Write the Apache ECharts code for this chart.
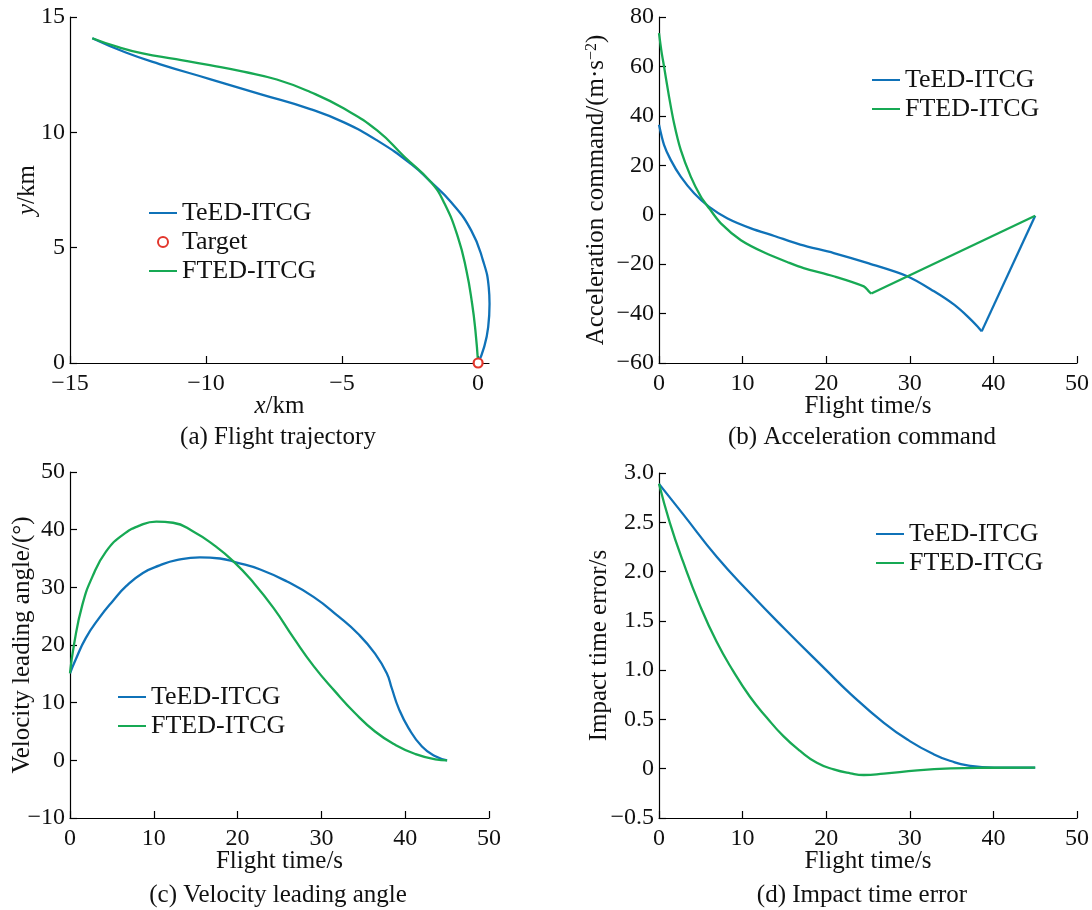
<!DOCTYPE html>
<html>
<head>
<meta charset="utf-8">
<script src="https://cdn.jsdelivr.net/npm/echarts@6/dist/echarts.min.js"></script>
<style>
  html, body { margin: 0; padding: 0; background: #fff; }
  #chart { width: 1092px; height: 910px; }
</style>
</head>
<body>
<div id="chart"></div>
<script>
// (a) flight trajectory, km
const trajTeX = [-14.18, -12.95, -11.71, -9.86, -8.01, -6.17, -4.93, -3.70, -2.47, -1.73, -0.99, -0.25, 0.18, 0.39, 0.42, 0.37, 0.22, 0];
const trajTeY = [14.08, 13.46, 12.96, 12.31, 11.66, 11.01, 10.43, 9.64, 8.63, 7.84, 6.97, 5.74, 4.44, 3.29, 2.57, 1.56, 0.69, 0];
const trajFtX = [-14.18, -13.19, -12.33, -11.10, -9.86, -8.63, -7.40, -6.17, -4.93, -3.70, -2.71, -1.73, -1.23, -0.74, -0.43, -0.22, -0.10, 0];
const trajFtY = [14.08, 13.68, 13.42, 13.17, 12.91, 12.63, 12.29, 11.75, 11.03, 10.07, 8.94, 7.84, 6.90, 5.45, 4.01, 2.57, 1.41, 0];
const target = [[0, 0]];

// (b) acceleration command, m/s^2 (last point of each is after the switch)
const accTeT = [0, 0.6, 1.4, 2.6, 4.2, 6.0, 8.2, 11.0, 13.8, 16.9, 20.9, 24.9, 29.7, 32.9, 35.3, 36.9, 38.1, 38.6, 45];
const accTe = [36.4, 28.3, 22.2, 15.4, 8.7, 3.2, -1.5, -5.5, -8.6, -12.1, -15.5, -19.5, -24.9, -31, -36.4, -41.1, -45.2, -47.2, -0.4];
const accFtT = [0, 0.3, 0.6, 1.2, 1.8, 2.6, 3.8, 5.0, 6.0, 7.4, 9.8, 12.6, 15.6, 17.3, 20.9, 24.5, 25.1, 25.4, 45];
const accFt = [73.5, 66, 60, 47.8, 37, 26.2, 15.4, 7.3, 2.6, -3.5, -10.3, -15.3, -19.5, -21.6, -24.9, -29, -31, -31.9, -0.4];

// (c) velocity leading angle, deg
const angTeT = [0, 0.68, 1.88, 3.49, 5.09, 6.7, 8.7, 10.7, 12.7, 15.5, 17.9, 19.9, 22.7, 25.9, 29.1, 32.0, 34.4, 36.4, 37.8, 38.4, 39.2, 40.4, 42.0, 43.6, 45];
const angTe = [15.1, 17.5, 21.2, 24.7, 27.6, 30.2, 32.5, 33.8, 34.7, 35.2, 35.0, 34.3, 33.1, 31.0, 28.3, 25.0, 21.9, 18.5, 15.1, 12.5, 9.1, 5.6, 2.4, 0.7, 0];
const angFtT = [0, 0.48, 1.48, 2.69, 4.29, 6.3, 8.3, 10.3, 12.3, 14.7, 17.1, 19.5, 21.9, 24.3, 26.7, 29.1, 31.6, 34.0, 36.4, 38.8, 41.2, 43.6, 45];
const angFt = [15.1, 20.1, 27.0, 31.9, 36.2, 39.1, 40.7, 41.4, 41.2, 39.7, 37.4, 34.5, 30.8, 26.4, 21.2, 16.3, 12.0, 8.2, 5.0, 2.7, 1.1, 0.17, 0];

// (d) impact time error, s
const errTeT = [0, 2.9, 6.9, 10.9, 14.9, 20.0, 22.9, 26.9, 30, 32.9, 34.9, 36.9, 40.1, 45];
const errTe = [2.89, 2.58, 2.15, 1.78, 1.43, 1.0, 0.76, 0.465, 0.28, 0.145, 0.078, 0.034, 0.012, 0.012];
const errFtT = [0, 1.28, 2.88, 4.88, 6.88, 8.88, 10.88, 12.88, 14.88, 16.88, 18.88, 20.9, 22.9, 24.5, 26.9, 30.9, 34.9, 38.9, 45];
const errFt = [2.89, 2.50, 2.10, 1.66, 1.29, 0.99, 0.73, 0.52, 0.33, 0.18, 0.06, -0.007, -0.047, -0.064, -0.05, -0.017, 0.003, 0.01, 0.012];

const blue = '#0f72b8';
const green = '#17a954';
const red = '#e2362c';
const font = 'Liberation Serif';

const pairs = (xs, ys) => xs.map((x, i) => [x, ys[i]]);
const minus = s => String(s).replace('-', '\u2212');

function axis(grid, min, max, interval, name, gap, isY, fmt) {
  return {
    type: 'value', gridIndex: grid, min: min, max: max, interval: interval,
    name: name, nameLocation: 'middle', nameGap: gap, nameMoveOverlap: false,
    nameTextStyle: {
      fontFamily: font, fontSize: 25, color: '#111',
      rich: {
        i: { fontFamily: font, fontSize: 25, fontStyle: 'italic', color: '#111' },
        sup: { fontFamily: font, fontSize: 16, color: '#111', verticalAlign: 'top', lineHeight: 14 }
      }
    },
    axisLine: { show: true, onZero: false, lineStyle: { color: '#000', width: 1.2 } },
    axisTick: { show: true, inside: true, length: 7, lineStyle: { color: '#000', width: 1.2 } },
    splitLine: { show: false },
    axisLabel: {
      fontFamily: font, fontSize: 24, color: '#111', margin: isY ? 5 : 9,
      formatter: fmt || (v => minus(v))
    }
  };
}

function line(name, data, color, grid, smooth) {
  return {
    name: name, type: 'line', data: data, xAxisIndex: grid, yAxisIndex: grid,
    symbol: 'none', smooth: smooth, color: color,
    lineStyle: { color: color, width: 2.3 }, z: 3
  };
}

function legend(left, top, names) {
  return {
    left: left, top: top, orient: 'vertical', padding: 0, itemGap: 3,
    itemWidth: 28, itemHeight: 10,
    itemStyle: { opacity: 0 },
    textStyle: { fontFamily: font, fontSize: 26, color: '#111', lineHeight: 26 },
    data: names, selectedMode: false
  };
}

function caption(x, y, text) {
  return {
    type: 'text', x: x, y: y,
    style: {
      text: text, fontFamily: font, fontSize: 25, fill: '#111',
      align: 'center', verticalAlign: 'middle', textAlign: 'center', textVerticalAlign: 'middle'
    }
  };
}

const chart = echarts.init(document.getElementById('chart'));
chart.setOption({
  backgroundColor: '#fff',
  animation: false,
  grid: [
    { left: 70, top: 17, width: 419, height: 346 },
    { left: 659, top: 17, width: 418, height: 346 },
    { left: 70, top: 472, width: 419, height: 346 },
    { left: 659, top: 473, width: 418, height: 345 }
  ],
  xAxis: [
    axis(0, -15, 0.4, 5, '{i|x}/km', 31, false),
    axis(1, 0, 50, 10, 'Flight time/s', 31, false),
    axis(2, 0, 50, 10, 'Flight time/s', 31, false),
    axis(3, 0, 50, 10, 'Flight time/s', 31, false)
  ],
  yAxis: [
    axis(0, 0, 15, 5, '{i|y}/km', 30, true),
    axis(1, -60, 80, 20, 'Acceleration command/(m\u00b7s{sup|\u22122})', 50, true),
    axis(2, -10, 50, 10, 'Velocity leading angle/(\u00b0)', 35, true),
    axis(3, -0.5, 3.0, 0.5, 'Impact time error/s', 47, true,
      v => (Math.abs(v) < 1e-9 ? '0' : minus(v.toFixed(1))))
  ],
  legend: [
    legend(148, 200, ['TeED-ITCG', { name: 'Target', itemStyle: { opacity: 1 } }, 'FTED-ITCG']),
    legend(871, 67, ['TeED-ITCG', 'FTED-ITCG']),
    legend(117, 684, ['TeED-ITCG', 'FTED-ITCG']),
    legend(875, 521, ['TeED-ITCG', 'FTED-ITCG'])
  ],
  series: [
    line('TeED-ITCG', pairs(trajTeX, trajTeY), blue, 0, 0.5),
    {
      name: 'Target', type: 'scatter', data: target, xAxisIndex: 0, yAxisIndex: 0,
      symbol: 'circle', symbolSize: 9, color: red,
      itemStyle: { color: '#fff', borderColor: red, borderWidth: 2.2, opacity: 1 }, z: 4
    },
    line('FTED-ITCG', pairs(trajFtX, trajFtY), green, 0, 0.5),
    // (b) smooth part up to the switch, then the straight segment
    line('TeED-ITCG', pairs(accTeT.slice(0, -1), accTe.slice(0, -1)), blue, 1, 0.3),
    line('TeED-ITCG', pairs(accTeT.slice(-2), accTe.slice(-2)), blue, 1, false),
    line('FTED-ITCG', pairs(accFtT.slice(0, -1), accFt.slice(0, -1)), green, 1, 0.3),
    line('FTED-ITCG', pairs(accFtT.slice(-2), accFt.slice(-2)), green, 1, false),
    line('TeED-ITCG', pairs(angTeT, angTe), blue, 2, 0.5),
    line('FTED-ITCG', pairs(angFtT, angFt), green, 2, 0.5),
    line('TeED-ITCG', pairs(errTeT, errTe), blue, 3, 0.5),
    line('FTED-ITCG', pairs(errFtT, errFt), green, 3, 0.5)
  ],
  graphic: [
    caption(278, 437, '(a) Flight trajectory'),
    caption(862, 437, '(b) Acceleration command'),
    caption(278, 895, '(c) Velocity leading angle'),
    caption(862, 895, '(d) Impact time error')
  ]
});
</script>
</body>
</html>
